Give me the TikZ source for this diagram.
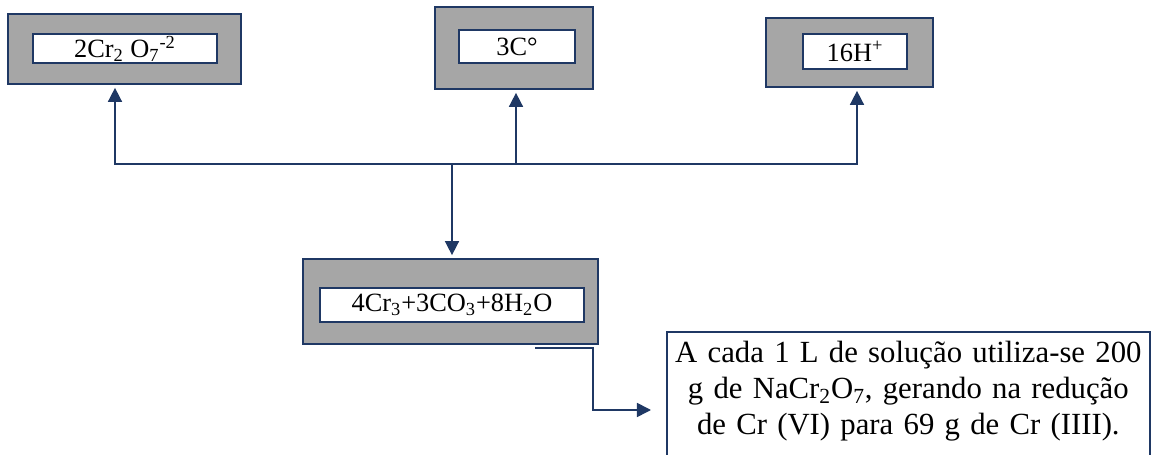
\documentclass[tikz,border=0pt]{standalone}
\usepackage{fontspec}
\setmainfont{Liberation Serif}
\usepackage{tikz}
\usetikzlibrary{arrows.meta, positioning, calc}
\definecolor{chromenavy}{RGB}{31, 56, 100}
\definecolor{chromegray}{RGB}{166, 166, 166}

\begin{document}
\begin{tikzpicture}[
    shell/.style={rectangle, draw=chromenavy, line width=1.4pt, fill=chromegray, inner sep=0pt},
    cell/.style={rectangle, draw=chromenavy, line width=0.8pt, fill=white, inner sep=0pt, font=\fontsize{15}{18}\selectfont},
    arr/.style={-{Triangle[length=8pt, width=8pt]}, line width=0.9pt, chromenavy, shorten >=1.5pt},
    notebox/.style={rectangle, align=center, text width=9.64cm, inner xsep=0pt, inner ysep=0.18cm, font=\fontsize{17.5}{20.5}\selectfont},
    noteframe/.style={line width=0.9pt, chromenavy}
]
\clip (0, 0) rectangle (23.08, -9.1);

\node[shell, minimum width=4.66cm, minimum height=1.40cm] (s1) at (2.49, -0.98) {};
\node[cell, minimum width=3.68cm, minimum height=0.58cm] (c1) at (2.50, -0.97) {2Cr\textsubscript{2} O\textsubscript{7}\textsuperscript{-2}};

\node[shell, minimum width=3.16cm, minimum height=1.64cm] (s2) at (10.28, -0.96) {};
\node[cell, minimum width=2.32cm, minimum height=0.66cm] (c2) at (10.34, -0.93) {3C°};

\node[shell, minimum width=3.34cm, minimum height=1.38cm] (s3) at (16.99, -1.05) {};
\node[cell, minimum width=2.08cm, minimum height=0.70cm] (c3) at (17.10, -1.03) {16H\textsuperscript{+}};

\node[shell, minimum width=5.90cm, minimum height=1.70cm] (s4) at (9.01, -6.03) {};
\node[cell, minimum width=5.28cm, minimum height=0.68cm] (c4) at (9.04, -6.10) {4Cr\textsubscript{3}+3CO\textsubscript{3}+8H\textsubscript{2}O};

\node[notebox, anchor=north west] (note) at (13.34, -6.64) {A cada 1 L de solução utiliza-se 200\\ g de NaCr\textsubscript{2}O\textsubscript{7}, gerando na redução\\ de Cr (VI) para 69 g de Cr (IIII).};
\draw[noteframe] ([yshift=-1cm]note.south west) |- (note.north east) -- ([yshift=-1cm]note.south east);

% reactants fan out from one junction, product below
\coordinate (hub) at (9.04, -3.28);
\draw[arr] (hub) -| ([xshift=-0.19cm]s1.south);
\draw[arr] (hub) -| ([xshift=0.04cm]s2.south);
\draw[arr] (hub) -| ([xshift=0.15cm]s3.south);
\draw[arr] (hub) -- (hub |- s4.north);

\coordinate (tap) at (10.70, -6.96);
\coordinate (drop) at (13.02, -8.20);
\draw[arr, shorten >=0pt] (tap) -- ++(1.16, 0) |- (drop);

\end{tikzpicture}
\end{document}
